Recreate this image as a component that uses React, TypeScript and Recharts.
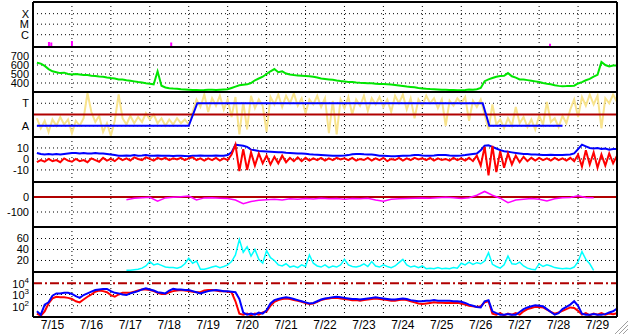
import React from "react";
import { LineChart, Line, XAxis, YAxis, ReferenceLine } from "recharts";

const FONT = "'Liberation Sans', Arial, Helvetica, sans-serif";
const W = 628;
const PH = 45;

const GREEN = "#00e600";
const RED = "#ff0000";
const BLUE = "#0000ff";
const MAGENTA = "#ff00ff";
const CYAN = "#00ffff";
const YELLOW = "#f8e38c";
const DARKRED = "#b00000";

const dayLabels = ["7/15", "7/16", "7/17", "7/18", "7/19", "7/20", "7/21", "7/22", "7/23", "7/24", "7/25", "7/26", "7/27", "7/28", "7/29"];
const dayTicks = dayLabels.map((_, i) => i + 0.5);
const dayLines = [1, 2, 3, 4, 5, 6, 7, 8, 9, 10, 11, 12, 13, 14];

// x-ray flares: [day, log10 flux]
const xrayBase = -7.17;
const xrayFlares: [number, number][] = [[0.41, -6.7], [0.47, -6.75], [1.0, -6.6], [3.55, -6.75], [13.28, -6.85]];

// solar wind speed, km/s, every 0.1 day from 0.1
const speed = [
  625, 615, 590, 555, 530, 520, 510, 515, 500, 495, 500, 495, 490, 488, 480, 478, 472, 470, 462, 455,
  450, 440, 438, 430, 425, 418, 410, 405, 398, 392, 385, 530, 370, 350, 342, 338, 335, 330, 328, 325,
  322, 322, 320, 322, 325, 325, 322, 325, 328, 330, 345, 360, 375, 380, 385, 400, 430, 450, 470, 500,
  530, 555, 520, 530, 505, 495, 488, 482, 480, 478, 476, 470, 462, 450, 445, 440, 435, 428, 422, 418,
  412, 410, 405, 402, 400, 398, 396, 393, 390, 388, 386, 384, 378, 372, 366, 360, 356, 352, 345, 340,
  335, 332, 330, 328, 326, 325, 323, 322, 320, 320, 322, 328, 325, 330, 345, 420, 440, 455, 470, 478,
  480, 510, 475, 460, 440, 438, 432, 425, 418, 410, 400, 392, 385, 375, 368, 365, 366, 368, 370, 395,
  410, 430, 445, 470, 490, 635, 600, 585, 595, 595,
];

// IMF phi angle, degrees, every 0.1 day from 0.1
const phi = [
  150, 70, 130, 40, 140, 90, 160, 100, 140, 30, 130, 90, 150, 350, 200, 120, 170, 40, 110, 10,
  130, 340, 150, 100, 170, 110, 160, 120, 190, 140, 180, 110, 150, 90, 140, 100, 150, 110, 140, 100,
  200, 300, 240, 340, 200, 310, 250, 330, 220, 300, 160, 320, 20, 280, 60, 330, 230, 300, 250, 40,
  320, 260, 340, 240, 330, 270, 350, 250, 310, 190, 300, 260, 330, 240, 310, 30, 290, 20, 300, 230,
  320, 180, 300, 250, 330, 210, 310, 260, 320, 240, 300, 200, 330, 270, 340, 220, 310, 150, 300, 250,
  330, 270, 310, 230, 300, 90, 290, 250, 310, 270, 320, 130, 290, 240, 300,
  180, 60, 260, 100, 140, 70, 150, 90, 240, 110, 160, 80, 140, 60, 170, 100, 280, 120, 150, 80, 170, 110, 220,
  300, 160, 320, 250, 340, 260, 330, 70, 310, 270, 340, 280,
];

// sector polarity: [day, degrees]
const sector: [number, number][] = [[0.1, 90], [4.0, 90], [4.22, 270], [11.55, 270], [11.72, 90], [13.6, 90]];

// Bt and Bz, nT, every 0.1 day from 0.1
const bt = [
  5.5, 4.5, 4, 4.5, 4, 4.5, 4, 4.5, 5, 5.5, 5.5, 5, 5.5, 5, 5, 5.5, 5, 5, 4.5, 4,
  3.5, 3, 3, 3.2, 3, 3.5, 3, 3.2, 3.5, 3, 3, 3.2, 3, 3, 3, 2.8, 3, 3, 2.8, 2.5,
  3, 3, 3.2, 3, 3, 3, 3.2, 3, 3, 3.5, 6, 13, 12.5, 12, 11, 8.5, 8, 7.2, 7, 6.8,
  6.6, 6.4, 6, 6, 5.7, 5.5, 5.3, 5, 5, 4.8, 4.3, 4, 3.8, 3.6, 3.4, 3.2, 3, 3, 3, 3.2,
  3.5, 4.2, 4.5, 4.5, 4.2, 4, 4, 3.5, 3, 3, 2.8, 2.5, 2.5, 2.8, 3, 3, 3.2, 3.5, 3.5, 3.2,
  3, 3, 3.2, 3.5, 3.5, 3.5, 3.2, 3, 3, 3.2, 3.5, 4, 4.5, 5, 8, 12, 12.5, 11, 9.5, 8,
  7, 6.5, 6, 5.5, 5, 4.5, 4.5, 4, 4, 3.8, 3.5, 3.5, 3.8, 3.5, 3.5, 3.5, 3.8, 4, 5, 9,
  13, 11.5, 10, 9.5, 10, 9, 9.5, 8.5, 9, 9,
];
const bz = [
  -3, -1, -2.5, 0, -2, -1, -3, 0.5, -1.5, -2.5, 0, -2, -1, -3, 0.5, -1, -2.5, 1, -1.5, 0,
  -2, 1, -1, 0.5, -1.5, 1.5, 0, -1, 1.5, 0, -1.5, 1, -0.5, 1, -1, 0.5, -0.5, 1, -1, 0.5,
  1.5, -1, 0.5, -1.5, 0.5, -1, 1, -1.5, 0.5, -1, 4, 13, -11, 9, -10, 6, -6, 5, -4, 3,
  -5, 2, -4, 3, -3, 1, -2, 1.5, -2, 1, -1.5, 0.5, -1, 1, -1.5, 0.5, -1, 1, -0.5, 0.5,
  -1, 1, -1.5, 0, -1, 1, -1.5, 0.5, -1, 1, -2, 0, -1, 1, -1.5, 0.5, -1, 1, -0.5, 0.5,
  -1, 1, -1.5, 0.5, -1, 0, -1.5, 1, -1, 0.5, -1.5, 1, -2, 3, -6, 11, -15, 12, -12, 7,
  -8, 5, -5, 3, -3, 2, -2, 1, -1.5, 1, -1, 0.5, -1.5, 1, -1, 0.5, -1.5, 1, -2, 4,
  -7, 8, -5, 6, -8, 4, -6, 5, -4, 3,
];

// Dst index, nT, every 0.2 day from 2.4
const dst = [
  -18, -9, -5, -2, -28, -6, -2, 2, 6, -20, -6, -5, -8, -10, -20, -45, -30, -22, -18, -15,
  -20, -12, -15, -10, -14, -8, -12, -10, -15, -10, -12, -8, -20, -28, -15, -12, -10, -8, -7, -8,
  -5, -2, -5, -10, -5, 12, 37, 12, -8, -38, -20, -15, -10, -15, -26, -12, -5, -3, 8, -3, -5,
];

// proton density, every 0.1 day from 2.4
const density = [
  2, 2, 3, 4, 6, 10, 18, 12, 14, 11, 8, 7, 7, 6, 8, 14, 24, 15, 19, 4,
  4, 6, 8, 10, 7, 9, 12, 18, 30, 58, 35, 45, 28, 40, 22, 15, 38, 25, 20, 12,
  10, 14, 8, 10, 7, 12, 9, 30, 15, 10, 8, 12, 7, 10, 8, 12, 22, 12, 9, 8,
  10, 14, 9, 18, 10, 8, 12, 9, 7, 10, 16, 22, 12, 8, 10, 7, 10, 5, 6, 5,
  7, 5, 6, 5, 7, 6, 15, 12, 17, 13, 16, 14, 19, 34, 13, 9, 6, 12, 28, 14,
  13, 17, 10, 6, 4, 3, 14, 9, 12, 10, 7, 6, 5, 6, 5, 8, 18, 36, 22, 14, 2,
];

// electron flux, every 0.1 day from 0.1
const electronRed = [
  20, 13, 32, 158, 447, 631, 562, 562, 501, 398, 251, 200, 355, 631, 1000, 1778, 2239, 1995, 1585, 891,
  631, 1000, 1413, 1413, 1413, 1778, 2239, 2818, 2818, 2512, 1995, 1413, 1122, 1122, 1585, 1995, 2239, 2512, 2239, 1995,
  1778, 1585, 1585, 2239, 2512, 2512, 2239, 1995, 1995, 1778, 1585, 251, 20, 16, 20, 14, 20, 16, 25, 32,
  100, 224, 316, 398, 447, 398, 316, 282, 224, 178, 141, 158, 224, 316, 398, 447, 501, 501, 447, 398,
  355, 316, 316, 282, 316, 355, 398, 447, 398, 355, 316, 282, 282, 316, 355, 316, 251, 200, 158, 141,
  158, 178, 200, 186, 186, 178, 186, 178, 186, 158, 126, 100, 89, 79, 89, 200, 251, 20, 16, 22,
  14, 20, 16, 22, 16, 32, 50, 63, 79, 79, 71, 45, 28, 20, 25, 35, 50, 71, 63, 35,
  16, 22, 14, 20, 16, 22, 16, 20, 18, 22,
];
const electronBlue = [
  32, 16, 126, 200, 794, 1259, 1259, 1413, 1413, 1122, 708, 501, 891, 1259, 1778, 2512, 2818, 3162, 3162, 1995,
  1413, 1259, 1000, 891, 1259, 1585, 1995, 2818, 3548, 2818, 2239, 1585, 1413, 1259, 2239, 3162, 2818, 2818, 2512, 2512,
  1995, 1585, 1259, 1585, 1995, 2239, 2512, 2239, 1995, 1995, 1778, 1585, 398, 25, 16, 20, 16, 25, 20, 40,
  158, 316, 398, 501, 562, 501, 398, 316, 251, 200, 158, 178, 251, 355, 447, 501, 562, 631, 562, 501,
  447, 398, 398, 355, 398, 447, 501, 562, 501, 447, 398, 355, 355, 398, 447, 398, 316, 282, 251, 251,
  282, 282, 316, 282, 282, 282, 282, 251, 251, 224, 178, 126, 100, 79, 71, 251, 316, 32, 22, 16,
  16, 18, 16, 16, 28, 50, 71, 89, 112, 100, 89, 50, 28, 16, 22, 50, 79, 126, 251, 100,
  20, 16, 16, 18, 16, 16, 18, 25, 32, 56,
];

const at = (start: number, step: number, i: number) => Math.round((start + i * step) * 1000) / 1000;

const xrayRows = xrayFlares.flatMap(([t, v]) => [
  { t, v: xrayBase },
  { t, v },
  { t, v: null },
]);
const speedRows = speed.map((v, i) => ({ t: at(0.1, 0.1, i), v }));
const phiRows = phi.map((v, i) => ({ t: at(0.1, 0.1, i), v }));
const sectorRows = sector.map(([t, v]) => ({ t, v }));
const fieldRows = bt.map((v, i) => ({ t: at(0.1, 0.1, i), bt: v, bz: bz[i] }));
const dstRows = dst.map((v, i) => ({ t: at(2.4, 0.2, i), v }));
const densityRows = density.map((v, i) => ({ t: at(2.4, 0.1, i), v }));
const electronRows = electronRed.map((v, i) => ({ t: at(0.1, 0.1, i), red: v, blue: electronBlue[i] }));

const tickStyle = { fontSize: 11, fill: "#000", fontFamily: FONT };
const xrayNames: Record<number, string> = { [-6]: "C", [-5]: "M", [-4]: "X" };
const sectorNames: Record<number, string> = { 90: "A", 270: "T" };

const PowTick = (props: any) => {
  const { x, y, payload } = props;
  return (
    <text x={x} y={y} textAnchor="end" fontSize={11} fontFamily={FONT} fill="#000" dy="0.45em">
      10
      <tspan fontSize={8} dy={-5}>
        {Math.round(Math.log10(payload.value))}
      </tspan>
    </text>
  );
};

type PanelProps = {
  top: number;
  domain: [number, number];
  ticks: number[];
  grid?: number[];
  fmt?: (v: number) => string;
  scale?: "linear" | "log";
  data?: any[];
  last?: boolean;
  tick?: any;
  children?: React.ReactNode;
};

function Panel({ top, domain, ticks, grid, fmt, scale = "linear", data, last, tick, children }: PanelProps) {
  const h = last ? 334 - (top - 2) : PH + 4;
  const gridLines = grid ?? ticks;
  return (
    <div style={{ position: "absolute", left: 0, top: top - 2 }}>
      <LineChart width={W} height={h} data={data} margin={{ top: 2, right: 11, bottom: last ? 0 : 2, left: 0 }}>
        <XAxis
          type="number"
          dataKey="t"
          domain={[0, 15]}
          hide={!last}
          ticks={dayTicks}
          interval={0}
          tickFormatter={(v: number) => dayLabels[Math.floor(v)]}
          tickLine={false}
          axisLine={false}
          tickSize={0}
          tickMargin={3}
          height={last ? h - 2 - PH : 0}
          tick={{ ...tickStyle, fontSize: 12 }}
          allowDataOverflow
        />
        <YAxis
          type="number"
          scale={scale}
          domain={domain}
          ticks={ticks}
          interval={0}
          width={33}
          tickFormatter={fmt}
          tick={tick ?? tickStyle}
          tickLine={false}
          axisLine={false}
          tickSize={0}
          tickMargin={4}
          allowDataOverflow
        />
        {gridLines.map((v) => (
          <ReferenceLine key={"h" + v} y={v} stroke="#000" strokeDasharray="1 3" />
        ))}
        {dayLines.map((d) => (
          <ReferenceLine key={"v" + d} x={d} stroke="#000" strokeDasharray="1 3" />
        ))}
        {children}
        <ReferenceLine x={0} stroke="#000" strokeWidth={2} />
        <ReferenceLine x={15} stroke="#000" strokeWidth={2} />
        <ReferenceLine y={domain[0]} stroke="#000" strokeWidth={2} />
        <ReferenceLine y={domain[1]} stroke="#000" strokeWidth={2} />
      </LineChart>
    </div>
  );
}

export default function App() {
  return (
    <div style={{ position: "absolute", left: 0, top: 0, width: W, height: 334, background: "#fff", overflow: "hidden" }}>
      <Panel top={2} domain={[xrayBase, -2.89]} ticks={[-6, -5, -4]} fmt={(v) => xrayNames[v] ?? ""}>
        <Line data={xrayRows} dataKey="v" stroke={MAGENTA} strokeWidth={2} dot={false} connectNulls={false} isAnimationActive={false} />
      </Panel>

      <Panel top={47} domain={[300, 800]} ticks={[400, 500, 600, 700]} data={speedRows}>
        <Line dataKey="v" stroke={GREEN} strokeWidth={2} dot={false} isAnimationActive={false} />
      </Panel>

      <Panel top={92} domain={[0, 360]} ticks={[90, 270]} fmt={(v) => sectorNames[v] ?? ""} data={phiRows}>
        <Line dataKey="v" stroke={YELLOW} strokeWidth={2} dot={false} isAnimationActive={false} />
        <ReferenceLine y={180} stroke={DARKRED} strokeWidth={2} />
        <Line data={sectorRows} dataKey="v" stroke={BLUE} strokeWidth={2} dot={false} isAnimationActive={false} />
      </Panel>

      <Panel top={137} domain={[-21, 20]} ticks={[-10, 0, 10]} data={fieldRows}>
        <Line dataKey="bt" stroke={BLUE} strokeWidth={2} dot={false} isAnimationActive={false} />
        <Line dataKey="bz" stroke={RED} strokeWidth={2} dot={false} isAnimationActive={false} />
      </Panel>

      <Panel top={182} domain={[-200, 100]} ticks={[-100, 0]} grid={[-100]} data={dstRows}>
        <ReferenceLine y={0} stroke={DARKRED} strokeWidth={2} />
        <Line dataKey="v" stroke={MAGENTA} strokeWidth={1.5} dot={false} isAnimationActive={false} />
      </Panel>

      <Panel top={227} domain={[-1, 81]} ticks={[20, 40, 60]} data={densityRows}>
        <Line dataKey="v" stroke={CYAN} strokeWidth={1.5} dot={false} isAnimationActive={false} />
      </Panel>

      <Panel top={272} domain={[10, 100000]} scale="log" ticks={[100, 1000, 10000]} grid={[100, 1000]} tick={<PowTick />} data={electronRows} last>
        <ReferenceLine y={10000} stroke={DARKRED} strokeWidth={2} strokeDasharray="9 3 2 3" />
        <Line dataKey="red" stroke={RED} strokeWidth={2} dot={false} isAnimationActive={false} />
        <Line dataKey="blue" stroke={BLUE} strokeWidth={2} dot={false} isAnimationActive={false} />
      </Panel>

      <svg style={{ position: "absolute", left: 612, top: 318 }} width={16} height={16}>
        {[5, 9, 13].map((o) => (
          <line key={o} x1={16 - o} y1={16} x2={16} y2={16 - o} stroke="#a0a0a0" />
        ))}
      </svg>
    </div>
  );
}
